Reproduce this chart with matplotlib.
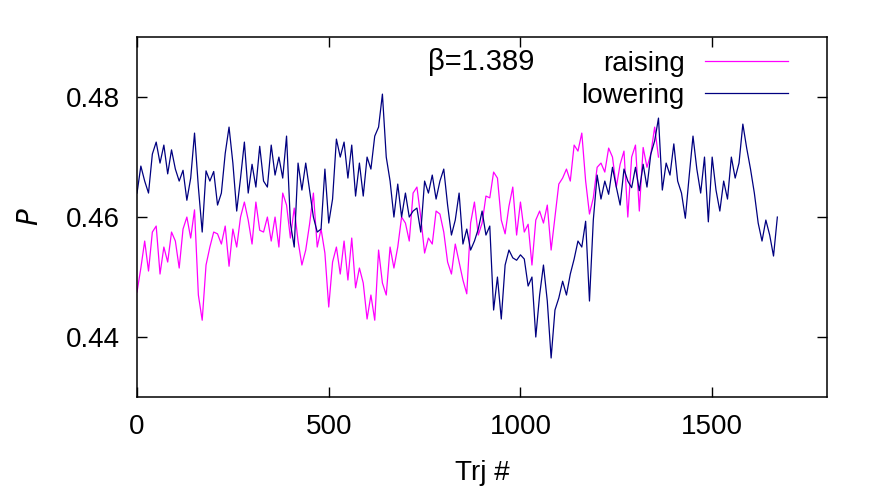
# Polyakov loop history, raising vs lowering beta
import numpy as np
import matplotlib
matplotlib.use('Agg')
import matplotlib.pyplot as plt

plt.rcParams['font.family'] = ['Liberation Sans', 'DejaVu Sans']

# values, every 10 trajectories
step = 10
lowering = [
    0.4640, 0.4685, 0.4660, 0.4640, 0.4705, 0.4725, 0.4690, 0.4720, 0.4672, 0.4712,
    0.4680, 0.4660, 0.4678, 0.4628, 0.4665, 0.4740, 0.4650, 0.4575, 0.4677, 0.4660,
    0.4676, 0.4620, 0.4640, 0.4706, 0.4750, 0.4690, 0.4610, 0.4665, 0.4725, 0.4640,
    0.4688, 0.4650, 0.4718, 0.4660, 0.4650,
    0.4720, 0.4670, 0.4700, 0.4665, 0.4735, 0.4590, 0.4550, 0.4690, 0.4645, 0.4690,
    0.4645, 0.4600, 0.4575, 0.4580, 0.4680, 0.4590, 0.4630, 0.4730, 0.4700, 0.4725,
    0.4665, 0.4720, 0.4635, 0.4690, 0.4635, 0.4700, 0.4680, 0.4735, 0.4750, 0.4805,
    0.4700, 0.4660, 0.4600, 0.4655,
    0.4600, 0.4640, 0.4600, 0.4610, 0.4615, 0.4575, 0.4660, 0.4640, 0.4670, 0.4630,
    0.4660, 0.4680, 0.4620, 0.4570, 0.4595, 0.4640, 0.4555, 0.4580, 0.4545, 0.4560,
    0.4580, 0.4610, 0.4570, 0.4585, 0.4445, 0.4500, 0.4430, 0.4520, 0.4545, 0.4532,
    0.4528, 0.4537, 0.4530,
    0.4485, 0.4500, 0.4400, 0.4470, 0.4520, 0.4460, 0.4365, 0.4445, 0.4465, 0.4493,
    0.4470, 0.4505, 0.4530, 0.4560, 0.4550, 0.4593, 0.4460, 0.4595, 0.4670, 0.4630,
    0.4660, 0.4638, 0.4683, 0.4650, 0.4620, 0.4680, 0.4660, 0.4649, 0.4683, 0.4644,
    0.4688, 0.4650, 0.4705, 0.4727,
    0.4765, 0.4645, 0.4690, 0.4670, 0.4722, 0.4660, 0.4640, 0.4598, 0.4668, 0.4735,
    0.4680, 0.4640, 0.4700, 0.4592, 0.4700, 0.4645, 0.4610, 0.4660, 0.4630, 0.4700,
    0.4665, 0.4690, 0.4755, 0.4715, 0.4680, 0.4640, 0.4590, 0.4560, 0.4595, 0.4570,
    0.4535, 0.4600,
]
raising = [
    0.4475, 0.4515, 0.4560, 0.4510, 0.4575, 0.4585, 0.4505, 0.4550, 0.4525, 0.4575,
    0.4560, 0.4515, 0.4580, 0.4600, 0.4565, 0.4612, 0.4470, 0.4428, 0.4520, 0.4550,
    0.4575, 0.4572, 0.4555, 0.4585, 0.4518, 0.4580, 0.4550, 0.4600, 0.4625, 0.4595,
    0.4555, 0.4625, 0.4578, 0.4575, 0.4600,
    0.4560, 0.4600, 0.4550, 0.4640, 0.4620, 0.4565, 0.4615, 0.4560, 0.4520, 0.4545,
    0.4588, 0.4640, 0.4550, 0.4580, 0.4540, 0.4450, 0.4525, 0.4550, 0.4505, 0.4560,
    0.4495, 0.4565, 0.4482, 0.4515, 0.4490, 0.4430, 0.4470, 0.4428, 0.4545, 0.4490,
    0.4470, 0.4550, 0.4515, 0.4550,
    0.4600, 0.4590, 0.4560, 0.4640, 0.4650, 0.4600, 0.4540, 0.4565, 0.4555, 0.4610,
    0.4605, 0.4575, 0.4525, 0.4505, 0.4555, 0.4525, 0.4495, 0.4472, 0.4590, 0.4625,
    0.4570, 0.4590, 0.4635, 0.4632, 0.4675, 0.4665, 0.4595, 0.4572, 0.4618, 0.4650,
    0.4570, 0.4625, 0.4575, 0.4588,
    0.4520, 0.4595, 0.4610, 0.4590, 0.4620, 0.4545, 0.4600, 0.4655, 0.4665, 0.4680,
    0.4660, 0.4720, 0.4710, 0.4740, 0.4660, 0.4605, 0.4632, 0.4683, 0.4690, 0.4675,
    0.4715, 0.4700, 0.4650, 0.4688, 0.4710, 0.4600, 0.4700, 0.4720, 0.4610, 0.4716,
    0.4683, 0.4705, 0.4750, 0.4700,
]
xticks = [0, 500, 1000, 1500]
yticks = [0.44, 0.46, 0.48]

trj_low = np.arange(len(lowering)) * step
trj_raise = np.arange(len(raising)) * step

fig = plt.figure(figsize=(8.8, 4.95), dpi=100)
ax = fig.add_axes([0.1557, 0.198, 0.7843, 0.727])

ax.plot(trj_raise, raising, color='#ff00ff', lw=0.9, label='raising')
ax.plot(trj_low, lowering, color='#000080', lw=0.9, label='lowering')

ax.set_xlim(0, 1800)
ax.set_ylim(0.43, 0.49)
ax.set_xticks(xticks)
ax.set_yticks(yticks)
ax.set_yticklabels(['%.2f' % v for v in yticks])
ax.tick_params(direction='in', top=True, right=True, length=7, width=1,
               labelsize=20, pad=12)
for s in ax.spines.values():
    s.set_linewidth(1.1)

ax.set_xlabel('Trj #', fontsize=20, labelpad=15)
ax.set_ylabel('$P$', fontsize=20, labelpad=16)

ax.text(0.4217, 0.9306, 'β=1.389', transform=ax.transAxes,
        fontsize=21, va='center', ha='left')
ax.legend(loc='upper right', bbox_to_anchor=(0.9435, 0.962), frameon=False,
          markerfirst=False, fontsize=20, handlelength=3.0, handletextpad=0.72,
          labelspacing=0.22, borderaxespad=0, borderpad=0)

plt.savefig('out.png', dpi=100)
